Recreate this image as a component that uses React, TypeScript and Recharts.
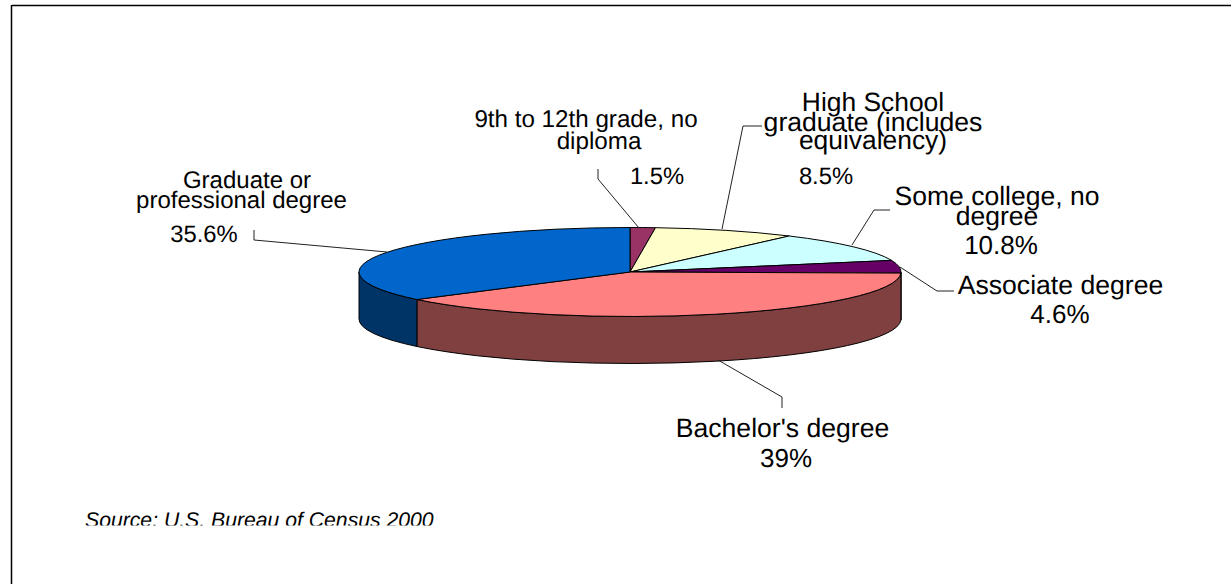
import React from "react";
import { PieChart, Pie, Cell } from "recharts";

const categories = [
  "9th to 12th grade, no diploma",
  "High School graduate (includes equivalency)",
  "Some college, no degree",
  "Associate degree",
  "Bachelor's degree",
  "Graduate or professional degree",
];
const shares = [1.5, 8.5, 10.8, 4.6, 39, 35.6];
const shareLabels = ["1.5%", "8.5%", "10.8%", "4.6%", "39%", "35.6%"];
const topColors = ["#993366", "#FFFFCC", "#CCFFFF", "#660066", "#FF8080", "#0066CC"];
const sideColors = ["#4C1933", "#808066", "#668080", "#330033", "#804040", "#003366"];

const data = categories.map((name, i) => ({ name, value: shares[i] }));

const RY = 44.5;
const DEPTH = 47;
const FONT = "'Liberation Sans', Arial, sans-serif";

// label text is placed by hand, the lines overlap in the original
const labelText = [
  [
    { text: "9th to 12th grade, no", x: 586, y: 127, size: 24.2 },
    { text: "diploma", x: 599, y: 149, size: 24.2 },
    { text: shareLabels[0], x: 657, y: 184, size: 23.8 },
  ],
  [
    { text: "High School", x: 873, y: 110.5, size: 26.4 },
    { text: "graduate (includes", x: 873, y: 130.5, size: 26.6 },
    { text: "equivalency)", x: 873, y: 149, size: 26.4 },
    { text: shareLabels[1], x: 826, y: 184, size: 23.8 },
  ],
  [
    { text: "Some college, no", x: 997, y: 205, size: 26.5 },
    { text: "degree", x: 997, y: 225, size: 26.5 },
    { text: shareLabels[2], x: 1001, y: 254, size: 26 },
  ],
  [
    { text: "Associate degree", x: 1060.5, y: 294, size: 26.6 },
    { text: shareLabels[3], x: 1060, y: 323, size: 26 },
  ],
  [
    { text: "Bachelor's degree", x: 782.5, y: 437, size: 26.6 },
    { text: shareLabels[4], x: 786, y: 467, size: 26 },
  ],
  [
    { text: "Graduate or", x: 247, y: 188, size: 24 },
    { text: "professional degree", x: 241.5, y: 208, size: 24 },
    { text: shareLabels[5], x: 204, y: 242, size: 23.8 },
  ],
];

const leaderPoints = [
  "598,169 598,179 639,228",
  "762,126 743,126 722,229",
  "890,210 874,210 852,245",
  "954,291 937,291 900,267",
  "718,360 782,397 782,408",
  "254,230 254,240 387,252",
];

function PieSlice3D(props: any) {
  const { cx, cy, outerRadius: rx, startAngle, endAngle, index } = props;
  const pt = (t: number, dy = 0) => {
    const a = (t * Math.PI) / 180;
    return `${cx + rx * Math.sin(a)} ${cy - RY * Math.cos(a) + dy}`;
  };
  // angle clockwise from 12 o'clock
  const t0 = 90 - startAngle;
  const t1 = 90 - endAngle;
  const large = t1 - t0 > 180 ? 1 : 0;
  const top = `M ${cx} ${cy} L ${pt(t0)} A ${rx} ${RY} 0 ${large} 1 ${pt(t1)} Z`;
  const s = Math.max(t0, 90);
  const e = Math.min(t1, 270);
  const side =
    s < e
      ? `M ${pt(s)} A ${rx} ${RY} 0 0 1 ${pt(e)} L ${pt(e, DEPTH)} A ${rx} ${RY} 0 0 0 ${pt(s, DEPTH)} Z`
      : null;
  return (
    <g>
      {side && <path d={side} fill={sideColors[index]} stroke="#000" strokeWidth={1} />}
      <path d={top} fill={topColors[index]} stroke="#000" strokeWidth={1} />
    </g>
  );
}

function SliceLabel({ index }: any) {
  return (
    <g>
      <polyline points={leaderPoints[index]} fill="none" stroke="#222" strokeWidth={1} />
      {labelText[index].map((l) => (
        <text
          key={l.text}
          x={l.x}
          y={l.y}
          textAnchor="middle"
          fontSize={l.size}
          fontFamily={FONT}
          textRendering="geometricPrecision"
          fill="#000"
        >
          {l.text}
        </text>
      ))}
    </g>
  );
}

export default function App() {
  return (
    <div style={{ position: "absolute", left: 0, top: 0, width: 1231, height: 584, background: "#fff" }}>
      <PieChart width={1231} height={584} margin={{ top: 0, right: 0, bottom: 0, left: 0 }}>
        <defs>
          <clipPath id="sourceClip">
            <rect x={0} y={490} width={600} height={35.5} />
          </clipPath>
        </defs>
        <line x1={12} y1={5.5} x2={1231} y2={5.5} stroke="#000" strokeWidth={1.5} />
        <line x1={11.5} y1={5} x2={11.5} y2={584} stroke="#000" strokeWidth={1.5} />
        <Pie
          data={data}
          dataKey="value"
          nameKey="name"
          cx={630}
          cy={272}
          innerRadius={0}
          outerRadius={271}
          startAngle={90}
          endAngle={-270}
          stroke="none"
          shape={PieSlice3D}
          label={SliceLabel}
          labelLine={false}
          isAnimationActive={false}
        >
          {data.map((d, i) => (
            <Cell key={d.name} fill={topColors[i]} />
          ))}
        </Pie>
        <g clipPath="url(#sourceClip)">
          <text
            x={85}
            y={527}
            fontSize={21.2}
            fontStyle="italic"
            fontFamily={FONT}
            textRendering="geometricPrecision"
            fill="#000"
          >
            Source: U.S. Bureau of Census 2000
          </text>
        </g>
      </PieChart>
    </div>
  );
}
